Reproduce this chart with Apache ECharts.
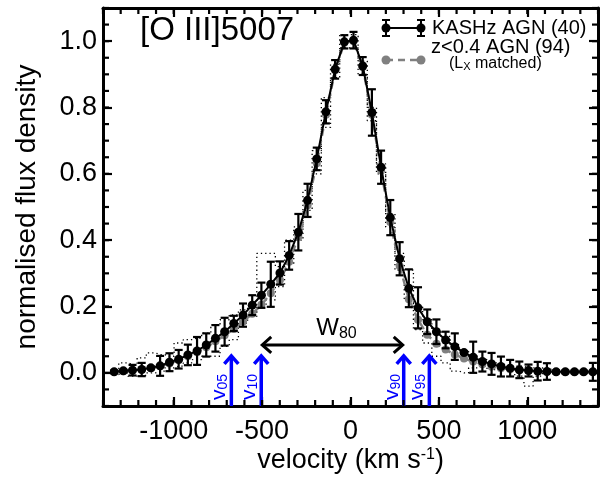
<!DOCTYPE html>
<html><head><meta charset="utf-8">
<script src="https://cdn.jsdelivr.net/npm/echarts@6/dist/echarts.min.js"></script>
<style>html,body{margin:0;padding:0;background:#fff}#c{width:603px;height:479px}</style>
</head><body><div id="c"></div>
<script>
const FONT = "'Liberation Sans', Arial, Helvetica, sans-serif";

// velocity grid (km/s)
const velocity = [-1337,-1285,-1233,-1181,-1129,-1077,-1024,-972,-920,-868,-816,-764,-712,-660,-608,-556,-504,-451,-399,-347,-295,-243,-191,-139,-87,-35,17,69,121,173,225,278,330,382,434,486,538,590,642,694,746,798,851,903,955,1007,1059,1111,1163,1215,1267,1319,1371];
// KASHz AGN (40) stacked profile
const kashz = [0.003,0.006,0.008,0.010,0.015,0.021,0.032,0.041,0.054,0.066,0.084,0.104,0.124,0.149,0.174,0.204,0.234,0.267,0.301,0.354,0.424,0.520,0.645,0.787,0.915,0.998,1.003,0.925,0.785,0.620,0.468,0.344,0.255,0.196,0.154,0.124,0.099,0.079,0.061,0.047,0.034,0.027,0.019,0.014,0.009,0.007,0.005,0.004,0.003,0.003,0.003,0.003,0.003];
const kashzErr = [0.004,0.004,0.016,0.020,0.004,0.030,0.027,0.028,0.031,0.042,0.035,0.040,0.042,0.023,0.035,0.030,0.038,0.068,0.035,0.043,0.055,0.050,0.034,0.035,0.028,0.020,0.025,0.027,0.070,0.050,0.053,0.050,0.057,0.062,0.037,0.037,0.025,0.040,0.004,0.047,0.030,0.033,0.030,0.025,0.025,0.018,0.028,0.025,0.004,0.004,0.004,0.004,0.027];
// z<0.4 AGN (94), L_X matched
const lowz = [0.003,0.005,0.007,0.010,0.014,0.020,0.028,0.038,0.050,0.062,0.077,0.095,0.113,0.132,0.155,0.178,0.205,0.240,0.280,0.335,0.410,0.505,0.632,0.778,0.912,0.995,1.000,0.922,0.778,0.610,0.455,0.322,0.222,0.160,0.115,0.088,0.070,0.055,0.043,0.034,0.026,0.019,0.014,0.011,0.008,0.006,0.005,0.004,0.003,0.003,0.003,0.003,0.003];
// dotted envelope
const dotUpper = [0.012,0.030,0.025,0.045,0.060,0.055,0.050,0.090,0.100,0.105,0.120,0.145,0.160,0.175,0.190,0.200,0.360,0.360,0.320,0.400,0.440,0.550,0.670,0.830,0.930,1.020,1.020,0.940,0.800,0.630,0.480,0.360,0.310,0.200,0.160,0.130,0.110,0.085,0.065,0.050,0.040,0.030,0.025,0.020,0.020,0.015,0.015,0.010,0.008,0.008,0.008,0.008,0.008];
const dotLower = [-0.005,0.000,-0.010,-0.008,0.000,0.005,0.015,0.020,0.030,0.040,0.050,0.050,0.080,0.100,0.150,0.170,0.200,0.220,0.260,0.330,0.400,0.490,0.600,0.740,0.890,0.980,0.980,0.900,0.760,0.600,0.440,0.310,0.220,0.130,0.090,0.050,0.030,0.005,0.000,0.015,0.020,0.010,0.015,0.010,-0.010,-0.040,-0.010,0.000,0.000,0.000,0.000,0.000,0.000];

const xRange = [-1400, 1400];
const yRange = [-0.1, 1.1];
const xTicks = [-1000,-500,0,500,1000];
const yTicks = [0,0.2,0.4,0.6,0.8,1.0];
const xMinorTicks = [-1400,-1300,-1200,-1100,-1000,-900,-800,-700,-600,-500,-400,-300,-200,-100,0,100,200,300,400,500,600,700,800,900,1000,1100,1200,1300,1400];
const yMinorTicks = [-0.1,-0.05,0,0.05,0.1,0.15,0.2,0.25,0.3,0.35,0.4,0.45,0.5,0.55,0.6,0.65,0.7,0.75,0.8,0.85,0.9,0.95,1.0,1.05,1.1];
const vPct = [-674,-505,301,446];
const vPctLabels = ['05','10','90','95'];
const arrowBottom = -0.1, arrowTop = 0.054;
const w80Level = 0.084;

function xMajor(pos, labels){
  const a = {type:'value', gridIndex:0, position:pos, min:xRange[0], max:xRange[1], interval:100,
    axisLine:{show:true, onZero:false, lineStyle:{color:'#000', width:3}},
    axisTick:{show:true, inside:true, length:9, customValues:xTicks, lineStyle:{color:'#000', width:2.2}},
    axisLabel:{show:labels, customValues:xTicks, formatter:v=>String(v), fontSize:27, color:'#000', fontFamily:FONT, margin:12},
    splitLine:{show:false}, nameMoveOverlap:false};
  if(labels){
    a.name = 'velocity (km s{sup|-1})';
    a.nameLocation = 'middle'; a.nameGap = 41;
    a.nameTextStyle = {fontSize:27, color:'#000', fontFamily:FONT,
      rich:{sup:{fontSize:16, color:'#000', fontFamily:FONT, verticalAlign:'top', lineHeight:16}}};
  }
  return a;
}
function yMajor(pos, labels){
  const a = {type:'value', gridIndex:0, position:pos, min:yRange[0], max:yRange[1], interval:0.05,
    axisLine:{show:true, onZero:false, lineStyle:{color:'#000', width:3}},
    axisTick:{show:true, inside:true, length:9, customValues:yTicks, lineStyle:{color:'#000', width:2.2}},
    axisLabel:{show:labels, customValues:yTicks, formatter:v=>v.toFixed(1), fontSize:27, color:'#000', fontFamily:FONT, margin:6},
    splitLine:{show:false}, nameMoveOverlap:false};
  if(labels){
    a.name = 'normalised flux density';
    a.nameLocation = 'middle'; a.nameGap = 62; a.nameRotate = 90;
    a.nameTextStyle = {fontSize:28, color:'#000', fontFamily:FONT};
  }
  return a;
}

const chart = echarts.init(document.getElementById('c'), null, {renderer:'canvas'});
const tickStyle = {stroke:'#000', lineWidth:2.2};

const option = {
  animation:false,
  backgroundColor:'#fff',
  grid:{left:103, right:5, top:8, bottom:73, outerBoundsMode:'none'},
  xAxis:[xMajor('bottom', true), xMajor('top', false)],
  yAxis:[yMajor('left', true), yMajor('right', false)],
  series:[
    {type:'line', xAxisIndex:0, yAxisIndex:0, step:'middle', symbol:'none', z:1,
      data:velocity.map((v,i)=>[v, dotUpper[i]]),
      lineStyle:{color:'#000', width:1.3, type:[1.3,3]}},
    {type:'line', xAxisIndex:0, yAxisIndex:0, step:'middle', symbol:'none', z:1,
      data:velocity.map((v,i)=>[v, dotLower[i]]),
      lineStyle:{color:'#000', width:1.3, type:[1.3,3]}},
    {type:'line', xAxisIndex:0, yAxisIndex:0, symbol:'circle', symbolSize:8, z:2,
      data:velocity.map((v,i)=>[v, lowz[i]]),
      itemStyle:{color:'#808080'}, lineStyle:{color:'#808080', width:2.5, type:[7,5]}},
    {type:'custom', xAxisIndex:0, yAxisIndex:0, z:3,
      data:velocity.map((v,i)=>[v, kashz[i]-kashzErr[i], kashz[i]+kashzErr[i]]),
      encode:{x:0, y:[1,2]},
      renderItem:function(params, api){
        const x = api.value(0);
        const p1 = api.coord([x, api.value(1)]), p2 = api.coord([x, api.value(2)]);
        const w = 4, st = {stroke:'#000', lineWidth:2.2};
        return {type:'group', children:[
          {type:'line', shape:{x1:p1[0], y1:p1[1], x2:p2[0], y2:p2[1]}, style:st},
          {type:'line', shape:{x1:p1[0]-w, y1:p1[1], x2:p1[0]+w, y2:p1[1]}, style:st},
          {type:'line', shape:{x1:p2[0]-w, y1:p2[1], x2:p2[0]+w, y2:p2[1]}, style:st}
        ]};
      }},
    {type:'line', xAxisIndex:0, yAxisIndex:0, symbol:'circle', symbolSize:9, z:4,
      data:velocity.map((v,i)=>[v, kashz[i]]),
      itemStyle:{color:'#000'}, lineStyle:{color:'#000', width:2}},
    // minor ticks on bottom/top frame
    {type:'custom', xAxisIndex:0, yAxisIndex:0, z:6, silent:true,
      data:xMinorTicks.map(v=>[v, yRange[0], yRange[1]]),
      encode:{x:0, y:[1,2]},
      renderItem:function(params, api){
        const b = api.coord([api.value(0), api.value(1)]);
        const t = api.coord([api.value(0), api.value(2)]);
        return {type:'group', children:[
          {type:'line', shape:{x1:b[0], y1:b[1], x2:b[0], y2:b[1]-6}, style:tickStyle},
          {type:'line', shape:{x1:t[0], y1:t[1], x2:t[0], y2:t[1]+6}, style:tickStyle}
        ]};
      }},
    // minor ticks on left/right frame
    {type:'custom', xAxisIndex:0, yAxisIndex:0, z:6, silent:true,
      data:yMinorTicks.map(v=>[xRange[0], xRange[1], v]),
      encode:{x:[0,1], y:2},
      renderItem:function(params, api){
        const l = api.coord([api.value(0), api.value(2)]);
        const r = api.coord([api.value(1), api.value(2)]);
        return {type:'group', children:[
          {type:'line', shape:{x1:l[0], y1:l[1], x2:l[0]+6, y2:l[1]}, style:tickStyle},
          {type:'line', shape:{x1:r[0], y1:r[1], x2:r[0]-6, y2:r[1]}, style:tickStyle}
        ]};
      }},
    {type:'custom', xAxisIndex:0, yAxisIndex:0, z:5,
      data:vPct.map((v,i)=>[v, arrowBottom, arrowTop, i]),
      encode:{x:0, y:[1,2]},
      renderItem:function(params, api){
        const v = api.value(0);
        const b = api.coord([v, api.value(1)]);
        const t = api.coord([v, api.value(2)]);
        const idx = api.value(3);
        const blue = '#0000ff';
        return {type:'group', children:[
          {type:'line', shape:{x1:b[0], y1:b[1], x2:t[0], y2:t[1]+2}, style:{stroke:blue, lineWidth:3.5}},
          {type:'polyline', shape:{points:[[t[0]-7, t[1]+9],[t[0], t[1]+1],[t[0]+7, t[1]+9]]},
            style:{stroke:blue, lineWidth:3.5, fill:null, lineJoin:'miter'}},
          {type:'text', x:t[0]-12, y:b[1]-19, rotation:Math.PI/2,
            style:{text:'{v|v}{s|'+vPctLabels[idx]+'}', fill:blue, align:'center', verticalAlign:'middle',
              rich:{v:{fontSize:21, lineHeight:22, fill:blue, fontFamily:FONT},
                    s:{fontSize:14, lineHeight:14, fill:blue, fontFamily:FONT, verticalAlign:'bottom'}}}}
        ]};
      }},
    {type:'custom', xAxisIndex:0, yAxisIndex:0, z:5,
      data:[[vPct[1], vPct[2], w80Level]],
      encode:{x:[0,1], y:2},
      renderItem:function(params, api){
        const l = api.coord([api.value(0), api.value(2)]);
        const r = api.coord([api.value(1), api.value(2)]);
        const st = {stroke:'#000', lineWidth:3, fill:null, lineJoin:'miter'};
        const mid = (l[0]+r[0])/2;
        return {type:'group', children:[
          {type:'line', shape:{x1:l[0]+1, y1:l[1], x2:r[0]-1, y2:r[1]}, style:st},
          {type:'polyline', shape:{points:[[l[0]+10, l[1]-8],[l[0]+1, l[1]],[l[0]+10, l[1]+8]]}, style:st},
          {type:'polyline', shape:{points:[[r[0]-10, r[1]-8],[r[0]-1, r[1]],[r[0]-10, r[1]+8]]}, style:st},
          {type:'text', x:mid+4, y:l[1]-17,
            style:{text:'{w|W}{s|80}', fill:'#000', align:'center', verticalAlign:'middle',
              rich:{w:{fontSize:24, lineHeight:28, fill:'#000', fontFamily:FONT},
                    s:{fontSize:16, lineHeight:16, fill:'#000', fontFamily:FONT, verticalAlign:'bottom'}}}}
        ]};
      }}
  ],
  graphic:[
    {type:'text', x:140, y:31, z:10, style:{text:'[O III]5007', fill:'#000', font:'33px '+FONT, align:'left', verticalAlign:'middle'}},
    // legend: KASHz
    {type:'line', z:10, shape:{x1:386, y1:28, x2:421, y2:28}, style:{stroke:'#000', lineWidth:2}},
    {type:'line', z:10, shape:{x1:386, y1:20, x2:386, y2:36}, style:{stroke:'#000', lineWidth:2}},
    {type:'line', z:10, shape:{x1:382, y1:20, x2:390, y2:20}, style:{stroke:'#000', lineWidth:2}},
    {type:'line', z:10, shape:{x1:382, y1:36, x2:390, y2:36}, style:{stroke:'#000', lineWidth:2}},
    {type:'line', z:10, shape:{x1:421, y1:20, x2:421, y2:36}, style:{stroke:'#000', lineWidth:2}},
    {type:'line', z:10, shape:{x1:417, y1:20, x2:425, y2:20}, style:{stroke:'#000', lineWidth:2}},
    {type:'line', z:10, shape:{x1:417, y1:36, x2:425, y2:36}, style:{stroke:'#000', lineWidth:2}},
    {type:'circle', z:10, shape:{cx:386, cy:28, r:4.5}, style:{fill:'#000'}},
    {type:'circle', z:10, shape:{cx:421, cy:28, r:4.5}, style:{fill:'#000'}},
    {type:'text', x:432, y:28, z:10, style:{text:'KASHz AGN (40)', fill:'#000', font:'20px '+FONT, align:'left', verticalAlign:'middle'}},
    {type:'text', x:431, y:47, z:10, style:{text:'z<0.4 AGN (94)', fill:'#000', font:'20px '+FONT, align:'left', verticalAlign:'middle'}},
    // legend: low-z
    {type:'line', z:10, shape:{x1:386, y1:60, x2:421, y2:60}, style:{stroke:'#808080', lineWidth:2.5, lineDash:[7,5]}},
    {type:'circle', z:10, shape:{cx:386, cy:60, r:4.5}, style:{fill:'#808080'}},
    {type:'circle', z:10, shape:{cx:421, cy:60, r:4.5}, style:{fill:'#808080'}},
    {type:'text', x:449, y:64, z:10, style:{text:'(L{s|X} matched)', fill:'#000', font:'16px '+FONT, align:'left', verticalAlign:'middle',
      rich:{s:{fontSize:11, lineHeight:11, fill:'#000', fontFamily:FONT, verticalAlign:'bottom'}}}}
  ]
};
chart.setOption(option);
</script>
</body></html>
